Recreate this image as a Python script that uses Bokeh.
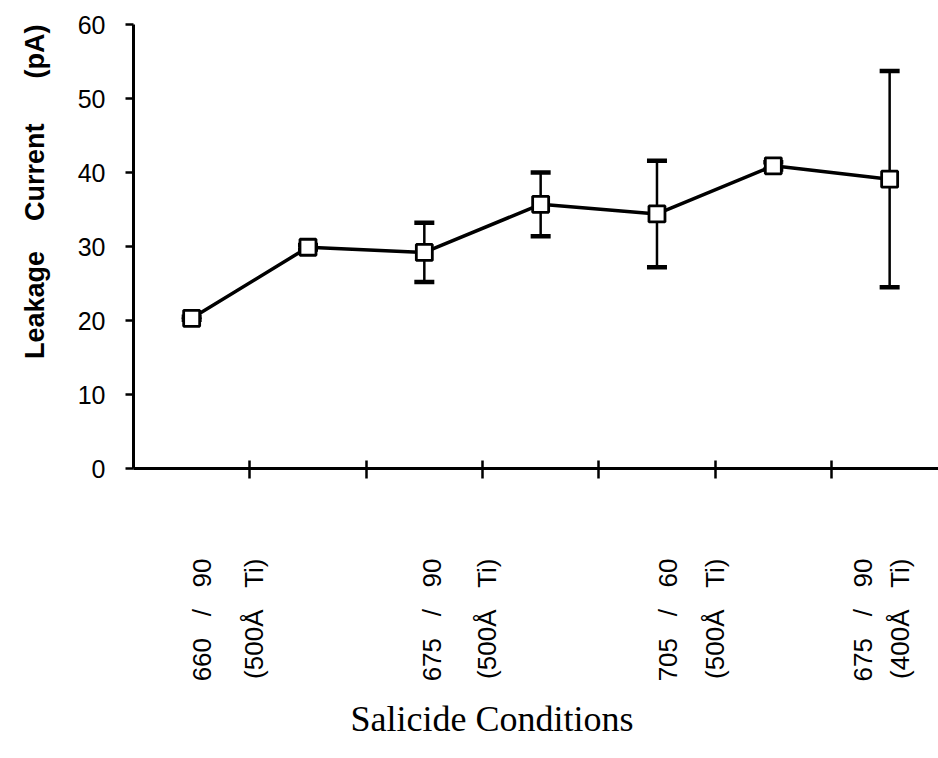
import numpy as np
from bokeh.plotting import figure
from bokeh.models import (Range1d, FixedTicker, LinearAxis, Whisker, ColumnDataSource,
                          TeeHead, Title)
from bokeh.embed import file_html
from bokeh.resources import INLINE

NB = "\u00a0"  # non-breaking space keeps the wide word gaps of the original

# ---- data ----
run = [1, 2, 3, 4, 5, 6, 7]
leakage_pA = [20.3, 29.9, 29.2, 35.7, 34.4, 40.9, 39.1]
err_pA = [0.2, 0.3, 4.0, 4.3, 7.2, 0.5, 14.6]
y_ticks = [0, 10, 20, 30, 40, 50, 60]
x_ticks = [1, 2, 3, 4, 5, 6]
cond_temp = ["660", "675", "705", "675"]
cond_time = ["90", "90", "60", "90"]
cond_ti = ["500Å", "500Å", "500Å", "400Å"]
y_title_words = ["Leakage", "Current", "(pA)"]

# label placement (data units)
line1_x = [0.593, 2.570, 4.599, 6.267]
line2_x = [1.032, 3.043, 5.003, 6.585]
y_title_at = 60

cond_line1 = [f"{a}{NB*3}/{NB*3}{b}" for a, b in zip(cond_temp, cond_time)]
cond_line2 = [f"({t}{NB*3}Ti)" for t in cond_ti]
y_title = y_title_words[0] + NB * 4 + y_title_words[1] + NB * 6 + y_title_words[2]

x = [r - 0.5 for r in run]
lower = [m - e for m, e in zip(leakage_pA, err_pA)]
upper = [m + e for m, e in zip(leakage_pA, err_pA)]
src = ColumnDataSource(dict(x=x, y=leakage_pA, lower=lower, upper=upper))

p = figure(width=938, height=758, output_backend="svg", toolbar_location=None,
           x_range=Range1d(0, 6.92), y_range=Range1d(0, 60),
           min_border_left=133, min_border_right=0, min_border_top=24,
           min_border_bottom=290)
p.outline_line_color = None
p.grid.visible = False
p.background_fill_color = "white"

ya = p.yaxis[0]
ya.ticker = FixedTicker(ticks=y_ticks)
ya.major_tick_in = 0
ya.major_tick_out = 8
ya.minor_tick_line_color = None
ya.axis_line_width = 3
ya.major_tick_line_width = 2.5
ya.major_label_text_font = "Liberation Sans"
ya.major_label_text_font_size = "25px"
ya.major_label_text_color = "black"
ya.major_label_standoff = 20

# y title as the single label of an outer, line-less axis
yt = LinearAxis(ticker=FixedTicker(ticks=[y_title_at]),
                major_label_overrides={y_title_at: y_title},
                axis_line_color=None, major_tick_line_color=None,
                minor_tick_line_color=None, major_tick_in=0, major_tick_out=0,
                major_label_orientation=np.pi / 2, major_label_standoff=40,
                major_label_text_font="Liberation Sans",
                major_label_text_font_style="bold",
                major_label_text_font_size="27px", major_label_text_color="black")
p.add_layout(yt, "left")

xa = p.xaxis[0]
xa.ticker = FixedTicker(ticks=x_ticks)
xa.major_tick_in = 8
xa.major_tick_out = 10
xa.minor_tick_line_color = None
xa.axis_line_width = 3
xa.major_tick_line_width = 2.5
xa.major_label_overrides = {t: "" for t in x_ticks}
xa.major_label_standoff = 0

# condition labels as a second, line-less axis
label_ticks = line1_x + line2_x
label_texts = cond_line1 + cond_line2
la = LinearAxis(ticker=FixedTicker(ticks=label_ticks),
                major_label_overrides={t: s for t, s in zip(label_ticks, label_texts)},
                axis_line_color=None, major_tick_line_color=None,
                minor_tick_line_color=None, major_tick_in=0, major_tick_out=0,
                major_label_orientation=np.pi / 2, major_label_standoff=80,
                major_label_text_font="Liberation Sans",
                major_label_text_font_size="26px", major_label_text_color="black")
p.add_layout(la, "below")

p.add_layout(Title(text="Salicide Conditions", align="left", offset=217, standoff=25,
                   text_font="Liberation Serif", text_font_size="36px",
                   text_font_style="normal", text_color="black"), "below")

p.line("x", "y", source=src, line_color="black", line_width=3.5)
wh = Whisker(source=src, base="x", lower="lower", upper="upper", dimension="height",
             line_color="black", line_width=2.5,
             upper_head=TeeHead(size=20, line_width=4.5, line_color="black"),
             lower_head=TeeHead(size=20, line_width=4.5, line_color="black"))
p.add_layout(wh)
p.scatter("x", "y", source=src, marker="square", size=16, fill_color="white",
          line_color="black", line_width=2.8)

open("out.html", "w").write(file_html(p, INLINE))
